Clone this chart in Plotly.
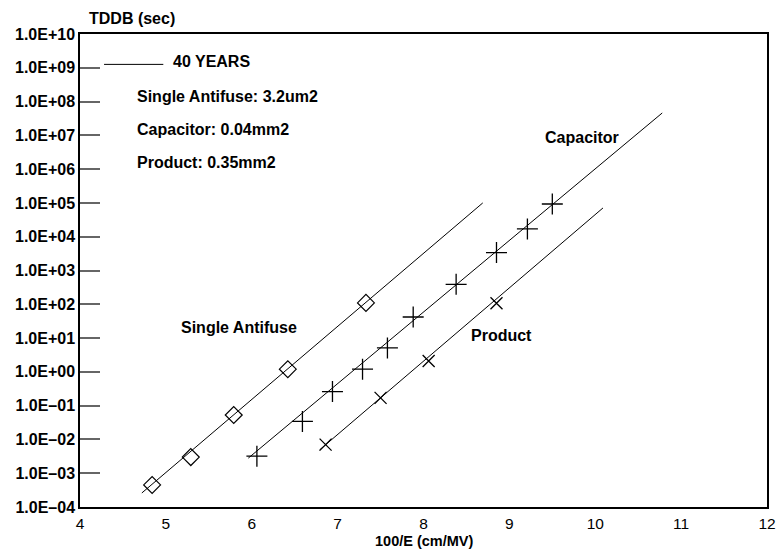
import plotly.graph_objects as go

# Measured breakdown times (seconds) vs. reciprocal field 100/E (cm/MV)
antifuse_x = [4.84, 5.29, 5.79, 6.42, 7.33]
antifuse_y = [4.5e-4, 3.0e-3, 5.3e-2, 1.2, 110]

capacitor_x = [6.06, 6.59, 6.94, 7.29, 7.58, 7.88, 8.38, 8.85, 9.21, 9.50]
capacitor_y = [3.2e-3, 3.4e-2, 0.26, 1.2, 5.1, 42, 390, 3400, 1.7e4, 9.3e4]

product_x = [6.86, 7.50, 8.06, 8.85]
product_y = [7.0e-3, 0.17, 2.1, 107]

# Extrapolated fit lines (end points)
antifuse_fit_x = [4.72, 8.69]
antifuse_fit_y = [2.6e-4, 1.0e5]
capacitor_fit_x = [5.96, 10.78]
capacitor_fit_y = [2.8e-3, 4.6e7]
product_fit_x = [6.79, 10.09]
product_fit_y = [4.9e-3, 7.1e4]

# 40-year reference level
years40_x = [4.28, 4.97]
years40_y = [1.26e9, 1.26e9]

decades = list(range(-4, 11))
tick_vals = [10.0 ** d for d in decades]
tick_text = [("1.0E+%02d" % d) if d >= 0 else ("1.0E\u2013%02d" % -d) for d in decades]

FONT = "Liberation Sans"
line_style = dict(color="black", width=1)

fig = go.Figure()
for fx, fy in [(antifuse_fit_x, antifuse_fit_y), (capacitor_fit_x, capacitor_fit_y),
               (product_fit_x, product_fit_y), (years40_x, years40_y)]:
    fig.add_trace(go.Scatter(x=fx, y=fy, mode="lines", line=line_style,
                             showlegend=False, hoverinfo="skip"))

fig.add_trace(go.Scatter(x=antifuse_x, y=antifuse_y, mode="markers", name="Single Antifuse",
                         marker=dict(symbol="diamond-open", size=13, color="black",
                                     line=dict(width=1.2, color="black"))))
fig.add_trace(go.Scatter(x=capacitor_x, y=capacitor_y, mode="markers", name="Capacitor",
                         marker=dict(symbol="cross-thin", size=15, color="black",
                                     line=dict(width=1.3, color="black"))))
fig.add_trace(go.Scatter(x=product_x, y=product_y, mode="markers", name="Product",
                         marker=dict(symbol="x-thin", size=12, color="black",
                                     line=dict(width=1.3, color="black"))))


def label(x, log_y, text, xanchor="left", size=16):
    fig.add_annotation(x=x, y=log_y, xref="x", yref="y", text="<b>%s</b>" % text,
                       showarrow=False, xanchor=xanchor, yanchor="middle",
                       font=dict(family=FONT, size=size, color="black"))


label(5.06, 9.2, "40 YEARS")
label(4.64, 8.14, "Single Antifuse: 3.2um2")
label(4.64, 7.16, "Capacitor: 0.04mm2")
label(4.64, 6.21, "Product: 0.35mm2")
label(5.85, 1.30, "Single Antifuse", xanchor="center")
label(9.84, 6.95, "Capacitor", xanchor="center")
label(8.91, 1.09, "Product", xanchor="center")

# Axis titles
fig.add_annotation(x=0.01, y=1.0, xref="paper", yref="paper", yshift=16,
                   text="<b>TDDB (sec)</b>", showarrow=False, xanchor="left", yanchor="middle",
                   font=dict(family=FONT, size=16, color="black"))
fig.add_annotation(x=0.5, y=0.0, xref="paper", yref="paper", yshift=-34, borderpad=0,
                   text="<b>100/E (cm/MV)</b>", showarrow=False, xanchor="center", yanchor="middle",
                   font=dict(family=FONT, size=14.5, color="black"))

fig.update_layout(
    width=777, height=549,
    margin=dict(l=80, r=10, t=34, b=42),
    paper_bgcolor="white", plot_bgcolor="white",
    showlegend=False,
    font=dict(family=FONT, color="black"),
    xaxis=dict(range=[4, 12], tickvals=list(range(4, 13)), showgrid=False, zeroline=False,
               showline=True, linecolor="black", linewidth=1.5, mirror=True, ticks="",
               ticklabelstandoff=2, automargin=False,
               tickfont=dict(family=FONT, size=15.5), tickprefix="<b>", ticksuffix="</b>"),
    yaxis=dict(type="log", range=[-4, 10], tickvals=tick_vals,
               ticktext=["<b>%s</b>" % t for t in tick_text], automargin=False,
               showgrid=False, zeroline=False, showline=True, linecolor="black", linewidth=1.5,
               mirror=True, ticks="inside", ticklen=20, tickwidth=2, tickcolor="#666",
               tickfont=dict(family=FONT, size=16)),
)

fig.write_html("out.html")
